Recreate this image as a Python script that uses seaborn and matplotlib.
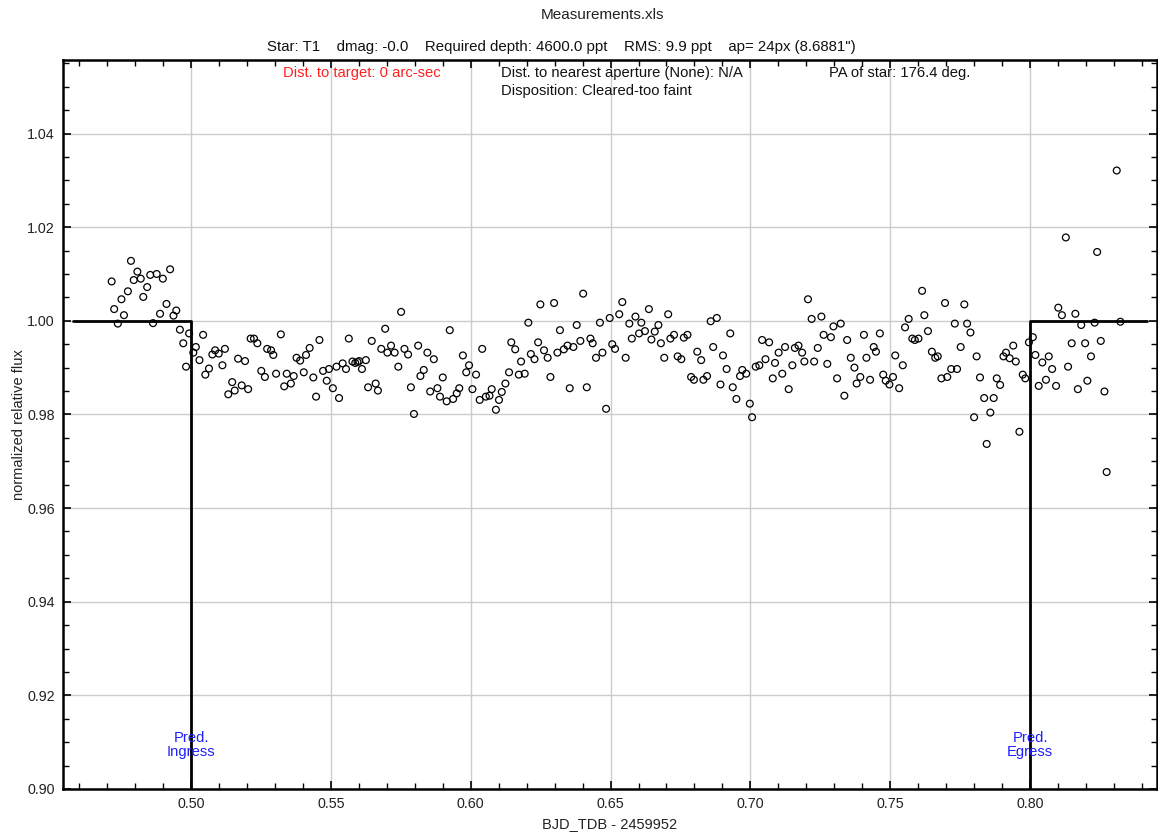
import matplotlib
matplotlib.use("Agg")
import matplotlib.pyplot as plt
import seaborn as sns
import pandas as pd
from matplotlib.ticker import MultipleLocator, FormatStrFormatter

# ---------------- data ----------------
time = [
    0.4716, 0.4725, 0.4738, 0.4751, 0.4760, 0.4774, 0.4785, 0.4795, 0.4808, 0.4820,
    0.4829, 0.4843, 0.4854, 0.4864, 0.4877, 0.4889, 0.4899, 0.4912, 0.4925, 0.4937,
    0.4947, 0.4960, 0.4972, 0.4982, 0.4993, 0.5008, 0.5017, 0.5030, 0.5043, 0.5051,
    0.5064, 0.5076, 0.5086, 0.5099, 0.5112, 0.5121, 0.5133, 0.5147, 0.5156, 0.5168,
    0.5181, 0.5193, 0.5204, 0.5213, 0.5225, 0.5237, 0.5251, 0.5264, 0.5272, 0.5286,
    0.5294, 0.5304, 0.5321, 0.5333, 0.5342, 0.5357, 0.5367, 0.5377, 0.5390, 0.5403,
    0.5411, 0.5424, 0.5437, 0.5447, 0.5459, 0.5472, 0.5485, 0.5493, 0.5507, 0.5520,
    0.5529, 0.5542, 0.5554, 0.5564, 0.5577, 0.5587, 0.5595, 0.5601, 0.5611, 0.5625,
    0.5633, 0.5646, 0.5660, 0.5668, 0.5680, 0.5694, 0.5702, 0.5715, 0.5728, 0.5741,
    0.5751, 0.5763, 0.5776, 0.5786, 0.5797, 0.5812, 0.5820, 0.5832, 0.5845, 0.5855,
    0.5868, 0.5881, 0.5890, 0.5900, 0.5914, 0.5925, 0.5937, 0.5950, 0.5959, 0.5972,
    0.5984, 0.5994, 0.6006, 0.6019, 0.6032, 0.6041, 0.6054, 0.6067, 0.6075, 0.6090,
    0.6101, 0.6111, 0.6124, 0.6137, 0.6145, 0.6159, 0.6172, 0.6180, 0.6193, 0.6206,
    0.6215, 0.6228, 0.6241, 0.6249, 0.6262, 0.6275, 0.6285, 0.6298, 0.6310, 0.6319,
    0.6333, 0.6346, 0.6354, 0.6367, 0.6379, 0.6392, 0.6402, 0.6415, 0.6428, 0.6436,
    0.6448, 0.6462, 0.6471, 0.6484, 0.6497, 0.6506, 0.6516, 0.6531, 0.6542, 0.6554,
    0.6567, 0.6576, 0.6589, 0.6602, 0.6610, 0.6623, 0.6637, 0.6646, 0.6658, 0.6671,
    0.6680, 0.6692, 0.6706, 0.6714, 0.6727, 0.6740, 0.6753, 0.6762, 0.6775, 0.6788,
    0.6798, 0.6810, 0.6824, 0.6832, 0.6845, 0.6858, 0.6867, 0.6880, 0.6893, 0.6902,
    0.6915, 0.6928, 0.6937, 0.6950, 0.6963, 0.6971, 0.6985, 0.6998, 0.7006, 0.7019,
    0.7032, 0.7042, 0.7054, 0.7067, 0.7080, 0.7088, 0.7101, 0.7114, 0.7124, 0.7137,
    0.7150, 0.7159, 0.7172, 0.7185, 0.7193, 0.7206, 0.7219, 0.7228, 0.7241, 0.7254,
    0.7262, 0.7275, 0.7288, 0.7297, 0.7310, 0.7323, 0.7336, 0.7346, 0.7359, 0.7372,
    0.7380, 0.7393, 0.7406, 0.7415, 0.7428, 0.7441, 0.7449, 0.7463, 0.7475, 0.7484,
    0.7497, 0.7510, 0.7518, 0.7532, 0.7545, 0.7553, 0.7566, 0.7579, 0.7588, 0.7601,
    0.7614, 0.7622, 0.7635, 0.7649, 0.7661, 0.7670, 0.7683, 0.7696, 0.7704, 0.7718,
    0.7731, 0.7739, 0.7752, 0.7765, 0.7775, 0.7787, 0.7800, 0.7809, 0.7821, 0.7836,
    0.7845, 0.7858, 0.7870, 0.7881, 0.7893, 0.7905, 0.7914, 0.7927, 0.7940, 0.7949,
    0.7962, 0.7974, 0.7983, 0.7996, 0.8010, 0.8019, 0.8031, 0.8044, 0.8057, 0.8067,
    0.8079, 0.8093, 0.8101, 0.8114, 0.8128, 0.8136, 0.8149, 0.8162, 0.8171, 0.8183,
    0.8197, 0.8205, 0.8218, 0.8231, 0.8240, 0.8253, 0.8266, 0.8274, 0.8310, 0.8323,
]
flux = [
    1.0084, 1.0025, 0.9994, 1.0046, 1.0012, 1.0063, 1.0128, 1.0087, 1.0105, 1.0090,
    1.0051, 1.0072, 1.0098, 0.9995, 1.0100, 1.0015, 1.0090, 1.0036, 1.0110, 1.0011,
    1.0022, 0.9981, 0.9952, 0.9902, 0.9973, 0.9932, 0.9944, 0.9916, 0.9970, 0.9885,
    0.9898, 0.9928, 0.9937, 0.9930, 0.9905, 0.9940, 0.9843, 0.9869, 0.9851, 0.9919,
    0.9862, 0.9914, 0.9854, 0.9962, 0.9962, 0.9952, 0.9893, 0.9880, 0.9940, 0.9937,
    0.9927, 0.9887, 0.9971, 0.9860, 0.9887, 0.9866, 0.9882, 0.9921, 0.9915, 0.9890,
    0.9927, 0.9942, 0.9879, 0.9838, 0.9959, 0.9893, 0.9872, 0.9897, 0.9856, 0.9902,
    0.9835, 0.9909, 0.9897, 0.9962, 0.9913, 0.9910, 0.9912, 0.9914, 0.9897, 0.9916,
    0.9858, 0.9957, 0.9866, 0.9851, 0.9940, 0.9983, 0.9932, 0.9947, 0.9932, 0.9902,
    1.0019, 0.9940, 0.9928, 0.9858, 0.9801, 0.9947, 0.9882, 0.9895, 0.9932, 0.9849,
    0.9918, 0.9856, 0.9838, 0.9879, 0.9828, 0.9980, 0.9833, 0.9845, 0.9856, 0.9926,
    0.9890, 0.9905, 0.9854, 0.9885, 0.9831, 0.9940, 0.9838, 0.9840, 0.9854, 0.9810,
    0.9831, 0.9848, 0.9866, 0.9890, 0.9954, 0.9939, 0.9885, 0.9913, 0.9887, 0.9996,
    0.9929, 0.9918, 0.9954, 1.0035, 0.9937, 0.9921, 0.9880, 1.0038, 0.9932, 0.9980,
    0.9939, 0.9947, 0.9856, 0.9944, 0.9991, 0.9957, 1.0058, 0.9858, 0.9962, 0.9952,
    0.9921, 0.9996, 0.9932, 0.9812, 1.0006, 0.9950, 0.9940, 1.0014, 1.0040, 0.9921,
    0.9994, 0.9962, 1.0009, 0.9973, 0.9996, 0.9978, 1.0025, 0.9960, 0.9977, 0.9991,
    0.9952, 0.9921, 1.0014, 0.9962, 0.9970, 0.9924, 0.9918, 0.9964, 0.9970, 0.9880,
    0.9874, 0.9934, 0.9916, 0.9874, 0.9882, 0.9999, 0.9944, 1.0006, 0.9864, 0.9926,
    0.9897, 0.9973, 0.9858, 0.9833, 0.9882, 0.9895, 0.9887, 0.9823, 0.9794, 0.9902,
    0.9905, 0.9959, 0.9918, 0.9954, 0.9877, 0.9910, 0.9932, 0.9887, 0.9944, 0.9854,
    0.9905, 0.9942, 0.9947, 0.9932, 0.9913, 1.0046, 1.0004, 0.9913, 0.9942, 1.0009,
    0.9970, 0.9908, 0.9965, 0.9988, 0.9877, 0.9994, 0.9840, 0.9959, 0.9921, 0.9900,
    0.9866, 0.9880, 0.9970, 0.9921, 0.9874, 0.9944, 0.9934, 0.9973, 0.9885, 0.9872,
    0.9864, 0.9880, 0.9926, 0.9856, 0.9905, 0.9986, 1.0004, 0.9962, 0.9959, 0.9962,
    1.0064, 1.0012, 0.9978, 0.9934, 0.9921, 0.9924, 0.9877, 1.0038, 0.9880, 0.9897,
    0.9994, 0.9897, 0.9944, 1.0035, 0.9994, 0.9975, 0.9794, 0.9924, 0.9879, 0.9835,
    0.9737, 0.9804, 0.9835, 0.9877, 0.9863, 0.9924, 0.9932, 0.9920, 0.9947, 0.9913,
    0.9763, 0.9885, 0.9877, 0.9954, 0.9965, 0.9927, 0.9861, 0.9911, 0.9874, 0.9924,
    0.9897, 0.9861, 1.0028, 1.0012, 1.0178, 0.9902, 0.9952, 1.0015, 0.9854, 0.9991,
    0.9952, 0.9872, 0.9924, 0.9996, 1.0147, 0.9957, 0.9849, 0.9677, 1.0321, 0.9998,
]

# predicted transit model (box)
model_time = [0.4578, 0.5000, 0.5000, 0.8000, 0.8000, 0.8418]
model_flux = [1.0000, 1.0000, 0.9954 - 4.6, 0.9954 - 4.6, 1.0000, 1.0000]

ingress_label = "Pred.\nIngress"
egress_label = "Pred.\nEgress"
ingress_t = 0.50
egress_t = 0.80

title = "Measurements.xls"
subtitle = ("Star: T1    dmag: -0.0    Required depth: 4600.0 ppt    "
            "RMS: 9.9 ppt    ap= 24px (8.6881\")")
info_red = "Dist. to target: 0 arc-sec"
info_mid = "Dist. to nearest aperture (None): N/A"
info_pa = "PA of star: 176.4 deg."
info_disp = "Disposition: Cleared-too faint"

# ---------------- plot ----------------
sns.set_theme(style="white")
plt.rcParams["font.family"] = ["Liberation Sans", "DejaVu Sans"]

fig = plt.figure(figsize=(11.58, 8.38), dpi=100)
ax = fig.add_axes([63 / 1158, 1 - 789 / 838, (1157 - 63) / 1158, (789 - 60) / 838])

df = pd.DataFrame({"t": time, "f": flux})
sns.scatterplot(data=df, x="t", y="f", ax=ax, marker="o", s=24,
                facecolor="none", edgecolor="black", linewidth=0.9, zorder=3)

ax.plot(model_time, model_flux, color="black", lw=2.0, zorder=2)

ax.set_xlim(0.4542, 0.8454)
ax.set_ylim(0.90, 1.0557)

ax.xaxis.set_major_locator(MultipleLocator(0.05))
ax.xaxis.set_minor_locator(MultipleLocator(0.01))
ax.yaxis.set_major_locator(MultipleLocator(0.02))
ax.yaxis.set_minor_locator(MultipleLocator(0.005))
ax.xaxis.set_major_formatter(FormatStrFormatter("%.2f"))
ax.yaxis.set_major_formatter(FormatStrFormatter("%.2f"))

ax.tick_params(which="both", direction="in", top=True, right=True,
               bottom=True, left=True, colors="black", labelsize=10.3,
               labelcolor="#222222")
ax.tick_params(which="major", length=6, width=1.2, pad=6)
ax.tick_params(which="minor", length=4, width=1.0)

ax.grid(True, which="major", color="#cccccc", lw=1.0, zorder=0)
ax.set_axisbelow(True)
for sp in ax.spines.values():
    sp.set_color("black")
    sp.set_linewidth(1.8)
    sp.set_visible(True)

ax.set_xlabel("BJD_TDB - 2459952", fontsize=10.5, color="#222222", labelpad=4)
ax.set_ylabel("normalized relative flux", fontsize=10.5, color="#222222", labelpad=1)

fig.text(603 / 1158, 1 - 15 / 838, title, ha="center", va="center",
         fontsize=11, color="#222222")
fig.text(561 / 1158, 1 - 47 / 838, subtitle, ha="center", va="center",
         fontsize=10.8, color="#111111")

ax.text(0.201, 0.982, info_red, transform=ax.transAxes, ha="left", va="center",
        fontsize=10.6, color="#ff2020")
ax.text(0.400, 0.982, info_mid, transform=ax.transAxes, ha="left", va="center",
        fontsize=10.6, color="#111111")
ax.text(0.700, 0.982, info_pa, transform=ax.transAxes, ha="left", va="center",
        fontsize=10.6, color="#111111")
ax.text(0.400, 0.958, info_disp, transform=ax.transAxes, ha="left", va="center",
        fontsize=10.6, color="#111111")

ax.text(ingress_t, 0.9093, ingress_label, ha="center", va="center",
        fontsize=10.6, color="#2020ff", linespacing=1.0)
ax.text(egress_t, 0.9093, egress_label, ha="center", va="center",
        fontsize=10.6, color="#2020ff", linespacing=1.0)

fig.savefig("out.png", dpi=100, facecolor="white")
